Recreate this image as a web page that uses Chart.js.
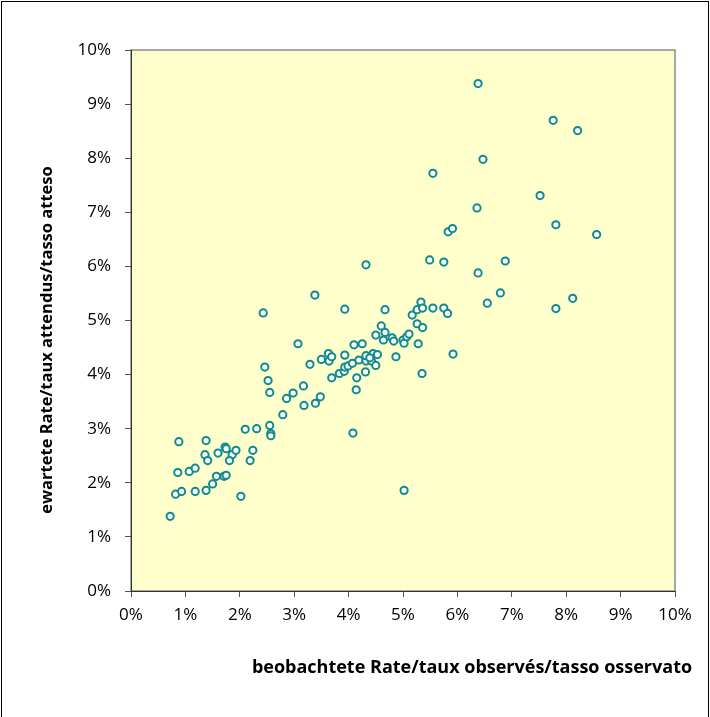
<!DOCTYPE html>
<html>
<head>
<meta charset="utf-8">
<script src="https://cdn.jsdelivr.net/npm/chart.js@4/dist/chart.umd.min.js"></script>
<style>
  html, body { margin: 0; padding: 0; background: #fff; }
  #wrap { width: 710px; height: 717px; }
</style>
</head>
<body>
<div id="wrap"><canvas id="chart" width="710" height="717"></canvas></div>
<script>
// observed rate (%) per unit
const observed = [
  0.72, 0.82, 0.93, 0.88, 0.86, 1.07, 1.18, 1.18, 1.38, 1.38,
  1.36, 1.41, 1.50, 1.57, 1.60, 1.73, 1.75, 1.86, 1.81, 1.93,
  1.71, 1.75, 2.02, 2.10, 2.31, 2.24, 2.19, 2.55, 2.57, 2.57,
  2.43, 2.46, 2.52, 2.55, 2.79, 2.86, 2.98, 3.17, 3.18, 3.39,
  3.48, 3.07, 3.29, 3.38, 3.50, 3.63, 3.64, 3.69, 3.69, 3.83,
  3.92, 3.93, 3.99, 3.93, 3.93, 4.07, 4.19, 4.10, 4.25, 4.14,
  4.15, 4.08, 4.31, 4.32, 4.42, 4.32, 4.45, 4.53, 4.50, 4.32,
  4.50, 4.60, 4.67, 4.64, 4.80, 4.83, 4.67, 4.87, 5.00, 5.02,
  5.07, 5.11, 5.02, 5.17, 5.26, 5.36, 5.28, 5.35, 5.26, 5.33,
  5.36, 5.55, 5.75, 5.82, 5.92, 5.49, 5.75, 5.55, 5.83, 5.91,
  6.38, 6.47, 6.36, 6.38, 6.55, 6.79, 6.88, 7.52, 7.76, 8.21,
  7.81, 8.56, 8.12, 7.81, 4.39
];
// expected rate (%) per unit, same order
const expected = [
  1.38, 1.79, 1.84, 2.76, 2.19, 2.21, 2.27, 1.84, 1.86, 2.78,
  2.52, 2.41, 1.98, 2.12, 2.55, 2.66, 2.63, 2.52, 2.41, 2.60,
  2.12, 2.14, 1.75, 2.99, 3.00, 2.60, 2.41, 3.06, 2.91, 2.87,
  5.14, 4.14, 3.89, 3.67, 3.26, 3.56, 3.66, 3.79, 3.43, 3.47,
  3.59, 4.57, 4.19, 5.47, 4.28, 4.39, 4.25, 4.33, 3.94, 4.02,
  4.06, 4.14, 4.16, 4.36, 5.21, 4.21, 4.27, 4.55, 4.57, 3.72,
  3.94, 2.92, 4.05, 4.25, 4.25, 4.35, 4.39, 4.37, 4.17, 6.03,
  4.73, 4.90, 4.78, 4.64, 4.68, 4.62, 5.20, 4.33, 4.64, 4.58,
  4.70, 4.75, 1.86, 5.10, 4.94, 4.87, 4.57, 4.02, 5.20, 5.34,
  5.23, 5.23, 5.23, 5.13, 4.38, 6.12, 6.08, 7.72, 6.64, 6.70,
  9.38, 7.98, 7.08, 5.88, 5.32, 5.51, 6.10, 7.31, 8.70, 8.51,
  6.77, 6.59, 5.41, 5.22, 4.31
];
const xTitle = 'beobachtete Rate/taux observés/tasso osservato';
const yTitle = 'ewartete Rate/taux attendus/tasso atteso';

const points = observed.map((x, i) => ({ x, y: expected[i] }));
const FONT = '"Open Sans", sans-serif';

const frame = {
  id: 'frame',
  beforeDraw(chart) {
    const { ctx, chartArea: a } = chart;
    ctx.save();
    ctx.fillStyle = '#fff';
    ctx.fillRect(0, 0, chart.width, chart.height);
    ctx.strokeStyle = '#000';
    ctx.lineWidth = 1;
    ctx.strokeRect(1.5, 1.5, chart.width - 3, chart.height + 5);
    ctx.fillStyle = '#FFFFCC';
    ctx.fillRect(a.left, a.top, a.right - a.left, a.bottom - a.top);
    ctx.strokeStyle = '#8a8a8a';
    ctx.lineWidth = 1.5;
    ctx.strokeRect(a.left, a.top, a.right - a.left, a.bottom - a.top);
    ctx.restore();
  },
  afterDraw(chart) {
    const { ctx } = chart;
    ctx.save();
    ctx.fillStyle = '#000';
    ctx.textAlign = 'center';
    ctx.textBaseline = 'middle';
    ctx.font = 'bold 18px ' + FONT;
    ctx.fillText(xTitle, 472, 668);
    ctx.font = 'bold 16.5px ' + FONT;
    ctx.translate(47, 340);
    ctx.rotate(-Math.PI / 2);
    ctx.fillText(yTitle, 0, 0);
    ctx.restore();
  }
};

new Chart(document.getElementById('chart'), {
  type: 'scatter',
  data: {
    datasets: [{
      data: points,
      pointStyle: 'circle',
      pointRadius: 3.6,
      pointBorderWidth: 2,
      borderColor: '#0F8B8D',
      backgroundColor: '#ffffff'
    }]
  },
  options: {
    responsive: false,
    animation: false,
    events: [],
    layout: { padding: { top: 50, right: 35, bottom: 0, left: 0 } },
    plugins: { legend: { display: false }, tooltip: { enabled: false } },
    scales: {
      x: {
        type: 'linear', min: 0, max: 10,
        afterFit(scale) { scale.height = 126; },
        grid: { drawOnChartArea: false, tickLength: 6, color: '#555' },
        border: { color: '#333', width: 1 },
        ticks: {
          stepSize: 1, padding: 8, color: '#000',
          font: { family: FONT, size: 17 },
          callback: v => v + '%'
        }
      },
      y: {
        type: 'linear', min: 0, max: 10,
        afterFit(scale) { scale.width = 131; },
        grid: { drawOnChartArea: false, tickLength: 6, color: '#555' },
        border: { color: '#333', width: 1 },
        ticks: {
          stepSize: 1, padding: 14, color: '#000',
          font: { family: FONT, size: 17 },
          callback: v => v + '%'
        }
      }
    }
  },
  plugins: [frame]
});
</script>
</body>
</html>
